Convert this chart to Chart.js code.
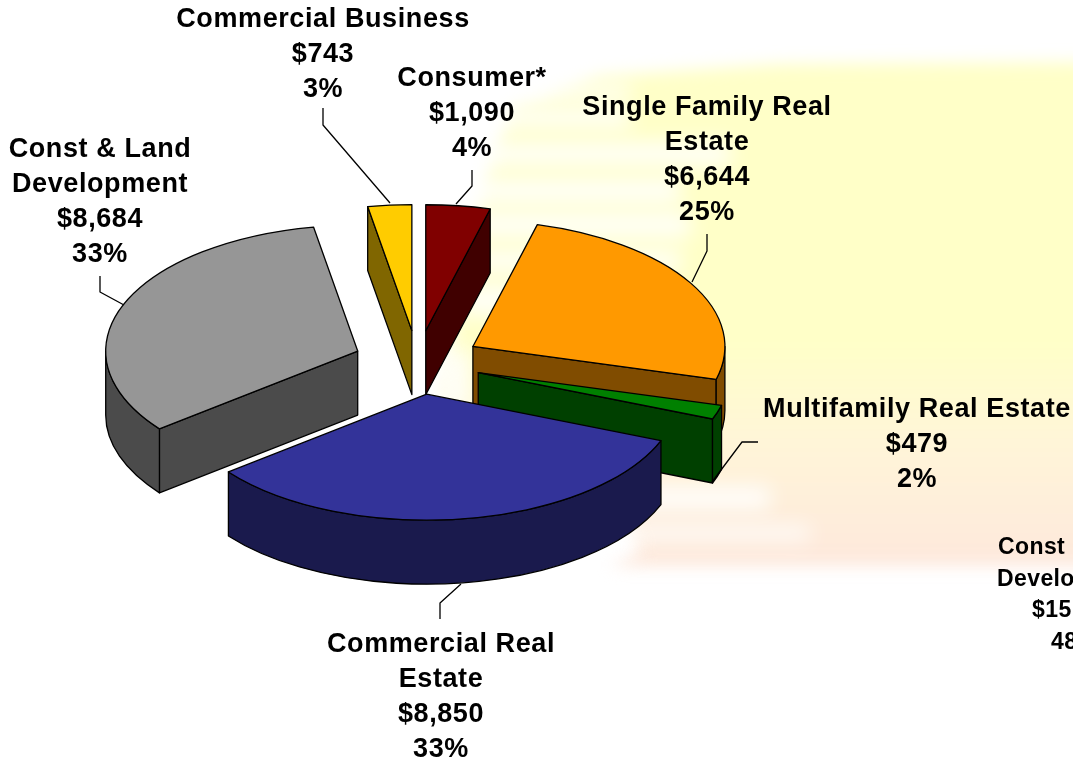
<!DOCTYPE html>
<html>
<head>
<meta charset="utf-8">
<title>Loan portfolio</title>
<script src="https://cdn.jsdelivr.net/npm/chart.js@4"></script>
<style>
    body { margin: 0; background: #fff; overflow: hidden; }
    canvas { display: block; }
</style>
</head>
<body>
<canvas id="pie" width="1073" height="763"></canvas>
<script>
const categories = ["Consumer*", "Single Family Real Estate", "Multifamily Real Estate", "Commercial Real Estate", "Const & Land Development", "Commercial Business"];
const values = [1090, 6644, 479, 8850, 8684, 743];
const percents = ["4%", "25%", "2%", "33%", "33%", "3%"];
const sliceColors = ["#800000", "#ff9900", "#008000", "#333399", "#969696", "#ffcc00"];
const wallColors = ["#400000", "#804c00", "#004000", "#1a1a4d", "#4b4b4b", "#806600"];
// the smaller label that runs off the right edge, only what can be read of it
const cutOffLabel = ["Const & Land", "Development", "$15", "48%"];

const RADIUS = 252;
const SQUASH = 0.5;
const DEPTH = 64;
const EXPLODE = 64;
const paintOrder = [5, 0, 4, 1, 2, 3]; // back to front

// label blocks: wrapped lines, centre x, y of first line, leader line
const labelLayout = [
    { lines: ["Consumer*"], x: 472, y: 80, leader: [[456, 204], [472, 186], [472, 170]] },
    { lines: ["Single Family Real", "Estate"], x: 707, y: 109, leader: [[692, 282], [707, 251], [707, 234]] },
    { lines: ["Multifamily Real Estate"], x: 917, y: 411, leader: [[712, 482], [742, 442], [758, 442]] },
    { lines: ["Commercial Real", "Estate"], x: 441, y: 646, leader: [[461, 584], [440, 603], [440, 619]] },
    { lines: ["Const & Land", "Development"], x: 100, y: 151, leader: [[124, 305], [100, 292], [100, 276]] },
    { lines: ["Commercial Business"], x: 323, y: 21, leader: [[390, 203], [323, 125], [323, 108]] }
];

function drawBackdrop(ctx) {
    ctx.save();
    ctx.filter = "blur(8px)";
    const grad = ctx.createLinearGradient(0, 70, 0, 565);
    grad.addColorStop(0, "#ffffc8");
    grad.addColorStop(0.55, "#ffffc8");
    grad.addColorStop(0.75, "#fff5d8");
    grad.addColorStop(1, "#fde8dc");
    ctx.fillStyle = grad;
    ctx.beginPath();
    ctx.moveTo(1120, 62);
    ctx.lineTo(780, 64);
    ctx.lineTo(600, 76);
    ctx.lineTo(510, 110);
    ctx.lineTo(480, 200);
    ctx.lineTo(440, 400);
    ctx.lineTo(620, 500);
    ctx.lineTo(640, 552);
    ctx.lineTo(610, 566);
    ctx.lineTo(1120, 566);
    ctx.closePath();
    ctx.fill();
    // pale streaks
    ctx.filter = "blur(10px)";
    ctx.fillStyle = "rgba(255,255,255,0.85)";
    [[520, 84, 110, 14], [470, 108, 160, 20], [480, 142, 250, 24], [440, 178, 240, 26], [470, 212, 220, 26], [470, 250, 210, 22],
     [460, 285, 60, 30], [440, 350, 30, 60], [600, 486, 170, 24], [600, 526, 210, 14]].forEach(s => ctx.fillRect(s[0], s[1], s[2], s[3]));
    ctx.restore();
}

function outline(ctx) {
    ctx.strokeStyle = "#000";
    ctx.lineWidth = 1.3;
    ctx.lineJoin = "round";
    ctx.stroke();
}

function drawSlice(ctx, el) {
    const a0 = el.startAngle, a1 = el.endAngle, mid = (a0 + a1) / 2;
    const ax = el.x + Math.cos(mid) * EXPLODE;
    const ay = el.y + Math.sin(mid) * EXPLODE * SQUASH;
    const rimX = a => ax + Math.cos(a) * RADIUS;
    const rimY = a => ay + Math.sin(a) * RADIUS * SQUASH;
    const wall = wallColors[el.$context.index];

    // cut faces that look towards the viewer
    const faces = [];
    if (Math.cos(a0) < -1e-6) faces.push(a0);
    if (Math.cos(a1) > 1e-6) faces.push(a1);
    faces.forEach(a => {
        ctx.beginPath();
        ctx.moveTo(ax, ay);
        ctx.lineTo(rimX(a), rimY(a));
        ctx.lineTo(rimX(a), rimY(a) + DEPTH);
        ctx.lineTo(ax, ay + DEPTH);
        ctx.closePath();
        ctx.fillStyle = wall;
        ctx.fill();
        outline(ctx);
    });

    // rim, front half only
    const lo = Math.max(a0, 0), hi = Math.min(a1, Math.PI);
    if (lo < hi) {
        ctx.beginPath();
        ctx.ellipse(ax, ay, RADIUS, RADIUS * SQUASH, 0, lo, hi);
        ctx.ellipse(ax, ay + DEPTH, RADIUS, RADIUS * SQUASH, 0, hi, lo, true);
        ctx.closePath();
        ctx.fillStyle = wall;
        ctx.fill();
        outline(ctx);
    }

    // top face is the library's own arc, tilted
    ctx.save();
    ctx.translate(0, el.y);
    ctx.scale(1, SQUASH);
    ctx.translate(0, -el.y);
    ctx.translate(Math.cos(mid) * EXPLODE, Math.sin(mid) * EXPLODE);
    el.draw(ctx, null);
    ctx.restore();

    ctx.beginPath();
    ctx.moveTo(ax, ay);
    ctx.ellipse(ax, ay, RADIUS, RADIUS * SQUASH, 0, a0, a1);
    ctx.closePath();
    outline(ctx);
}

function drawLabels(ctx) {
    ctx.save();
    ctx.fillStyle = "#000";
    ctx.textAlign = "center";
    ctx.textBaseline = "middle";
    ctx.font = "bold 27px 'Liberation Sans', Arial, sans-serif";
    ctx.letterSpacing = "0.6px";
    labelLayout.forEach((lab, i) => {
        const rows = lab.lines.concat(["$" + values[i].toLocaleString("en-US"), percents[i]]);
        rows.forEach((t, r) => ctx.fillText(t, lab.x, lab.y - 1 + r * 35));
        ctx.beginPath();
        lab.leader.forEach((p, n) => n ? ctx.lineTo(p[0], p[1]) : ctx.moveTo(p[0], p[1]));
        ctx.strokeStyle = "#000";
        ctx.lineWidth = 1.3;
        ctx.stroke();
    });
    ctx.font = "bold 23px 'Liberation Sans', Arial, sans-serif";
    ctx.textAlign = "left";
    ctx.letterSpacing = "0.4px";
    [998, 997, 1032, 1051].forEach((x, r) => ctx.fillText(cutOffLabel[r], x, 548 + r * 31.5));
    ctx.restore();
}

const tiltedPie = {
    id: "tiltedPie",
    beforeDraw(chart) {
        drawBackdrop(chart.ctx);
    },
    beforeDatasetDraw(chart, args) {
        const arcs = chart.getDatasetMeta(args.index).data;
        paintOrder.forEach(i => drawSlice(chart.ctx, arcs[i]));
        return false;
    },
    afterDraw(chart) {
        drawLabels(chart.ctx);
    }
};

new Chart(document.getElementById("pie").getContext("2d"), {
    type: "pie",
    data: {
        labels: categories,
        datasets: [{ data: values, backgroundColor: sliceColors, borderWidth: 0 }]
    },
    options: {
        responsive: false,
        animation: false,
        radius: RADIUS,
        rotation: 0,
        layout: { padding: { right: 238, bottom: 38 } },
        plugins: { legend: { display: false }, tooltip: { enabled: false } }
    },
    plugins: [tiltedPie]
});
</script>
</body>
</html>
